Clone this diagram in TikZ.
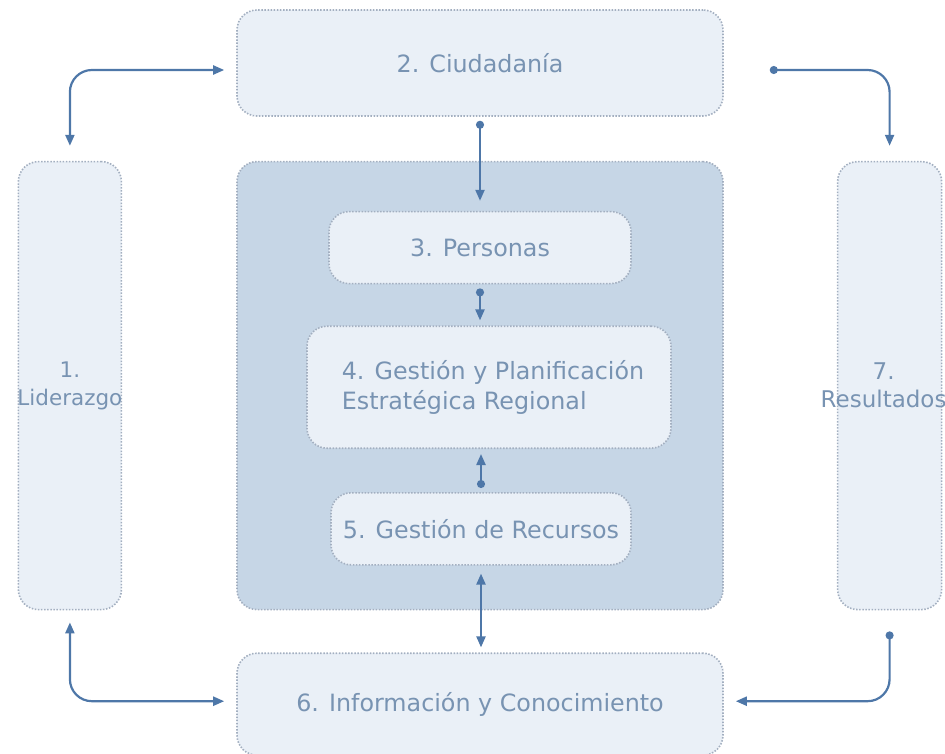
\documentclass[tikz,border=0pt]{standalone}
\usepackage{fontspec}
\setmainfont{DejaVu Sans}
\usetikzlibrary{positioning,arrows.meta}
\definecolor{boxfill}{HTML}{EAF0F7}
\definecolor{corefill}{HTML}{C6D6E6}
\definecolor{boxline}{HTML}{A3AFC0}
\definecolor{txtcol}{HTML}{7893B2}
\definecolor{linkcol}{HTML}{4E77A8}

\begin{document}
\begin{tikzpicture}[x=1pt,y=-1pt,>={Triangle[length=11pt,width=9pt]},
  box/.style={rectangle,rounded corners=20pt,fill=boxfill,draw=boxline,
    dash pattern=on 1.5pt off 1.6pt,line width=1.6pt,inner sep=0pt,
    text=txtcol,align=center,font=\fontsize{23.8}{30}\selectfont},
  core/.style={box,fill=corefill,minimum width=486pt,minimum height=448pt},
  lbl/.style={text=txtcol,align=center,font=\fontsize{23}{28}\selectfont},
  link/.style={draw=linkcol,line width=2.2pt,rounded corners=22pt}]
   \useasboundingbox (0,0) rectangle (945,754);
   \node[box,minimum width=486pt,minimum height=106pt] (ciud) at (480,63) {2. Ciudadanía};
   \node[core]                                         (core) [below=44pt of ciud] {};
   \node[box,minimum width=486pt,minimum height=102pt] (info) [below=42pt of core] {6. Información y Conocimiento};
   \node[box,minimum width=103pt,minimum height=448pt,
         label={[lbl,font=\fontsize{21.5}{28}\selectfont]center:1.\\Liderazgo}] (lid) [left=114pt of core] {};
   \node[box,minimum width=104pt,minimum height=448pt,
         label={[lbl,xshift=-6pt]center:7.\\Resultados}] (res) [right=113pt of core] {};
   \node[box,minimum width=302pt,minimum height=72pt]  (pers) [below=50pt of core.north] {3. Personas};
   \node[box,minimum width=364pt,minimum height=122pt,align=left]
                                                       (gest) [below=41pt of pers,xshift=9pt]
         {\hspace*{8pt}4. Gestión y Planificación\\\hspace*{8pt}Estratégica Regional};
   \node[box,minimum width=300pt,minimum height=72pt]  (rec)  [below=43pt of gest,xshift=-8pt] {5. Gestión de Recursos};
    \draw[link,<->,shorten <=12pt,shorten >=15pt] ([yshift=-7pt]ciud.west) -| (lid.north);
    \draw[link,{Circle[length=8pt]}->,shorten <=46pt,shorten >=15pt] ([yshift=-7pt]ciud.east) -| (res.north);
    \draw[link,{Circle[length=8pt]}->,shorten <=4pt,shorten >=10pt] (ciud.south) -- (pers.north -| ciud.south);
    \draw[link,{Circle[length=8pt]}->,shorten <=4pt,shorten >=5pt] (pers.south) -- (gest.north -| pers.south);
    \draw[link,{Circle[length=8pt]}->,shorten <=4pt,shorten >=5pt] (rec.north) -- (gest.south -| rec.north);
    \draw[link,<->,shorten <=8pt,shorten >=5pt] (rec.south) -- (info.north -| rec.south);
    \draw[link,<->,shorten <=12pt,shorten >=12pt] (lid.south) |- ([yshift=3pt]info.west);
    \draw[link,{Circle[length=8pt]}->,shorten <=21pt,shorten >=12pt] (res.south) |- ([yshift=3pt]info.east);
\end{tikzpicture}
\end{document}
